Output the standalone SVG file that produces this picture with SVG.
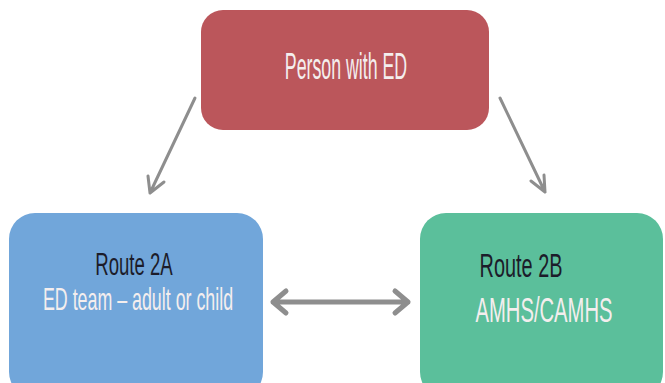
<svg xmlns="http://www.w3.org/2000/svg" width="665" height="383" viewBox="0 0 665 383">
<style>
.t{font-family:"Liberation Sans",Arial,sans-serif;text-anchor:middle}
.w{fill:#f4eeee}
.d{fill:#1c1c2a}
.c{fill:none;stroke:#8e8e8e;stroke-linecap:round;stroke-linejoin:round}
</style>
<rect width="665" height="383" fill="#ffffff"/>
<g id="person">
<rect x="201" y="10" width="288" height="120" rx="22" fill="#bb565b"/>
<text class="t w" transform="translate(346,79) scale(0.48,1)" font-size="37">Person with ED</text>
</g>
<g id="route2a">
<rect x="9" y="213" width="254" height="185" rx="26" fill="#71a6da"/>
<text class="t d" transform="translate(134,275) scale(0.6,1)" font-size="31">Route 2A</text>
<text class="t w" transform="translate(138,310) scale(0.557,1)" font-size="32">ED team – adult or child</text>
</g>
<g id="route2b">
<rect x="420" y="213" width="243" height="185" rx="26" fill="#5bbf9b"/>
<text class="t d" transform="translate(521,277) scale(0.585,1)" font-size="34">Route 2B</text>
<text class="t w" transform="translate(544,322) scale(0.578,1)" font-size="35">AMHS/CAMHS</text>
</g>
<g id="connectors">
<path class="c" stroke-width="3" d="M195 98 L150 193 M148 176 L150 193 L164 182"/>
<path class="c" stroke-width="3" d="M500 98 L545 192 M531 181 L545 192 L544 175"/>
<path class="c" stroke-width="5" d="M273 302 L408 302 M286 291 L273 302 L286 313 M395 291 L408 302 L395 313"/>
</g>
</svg>
